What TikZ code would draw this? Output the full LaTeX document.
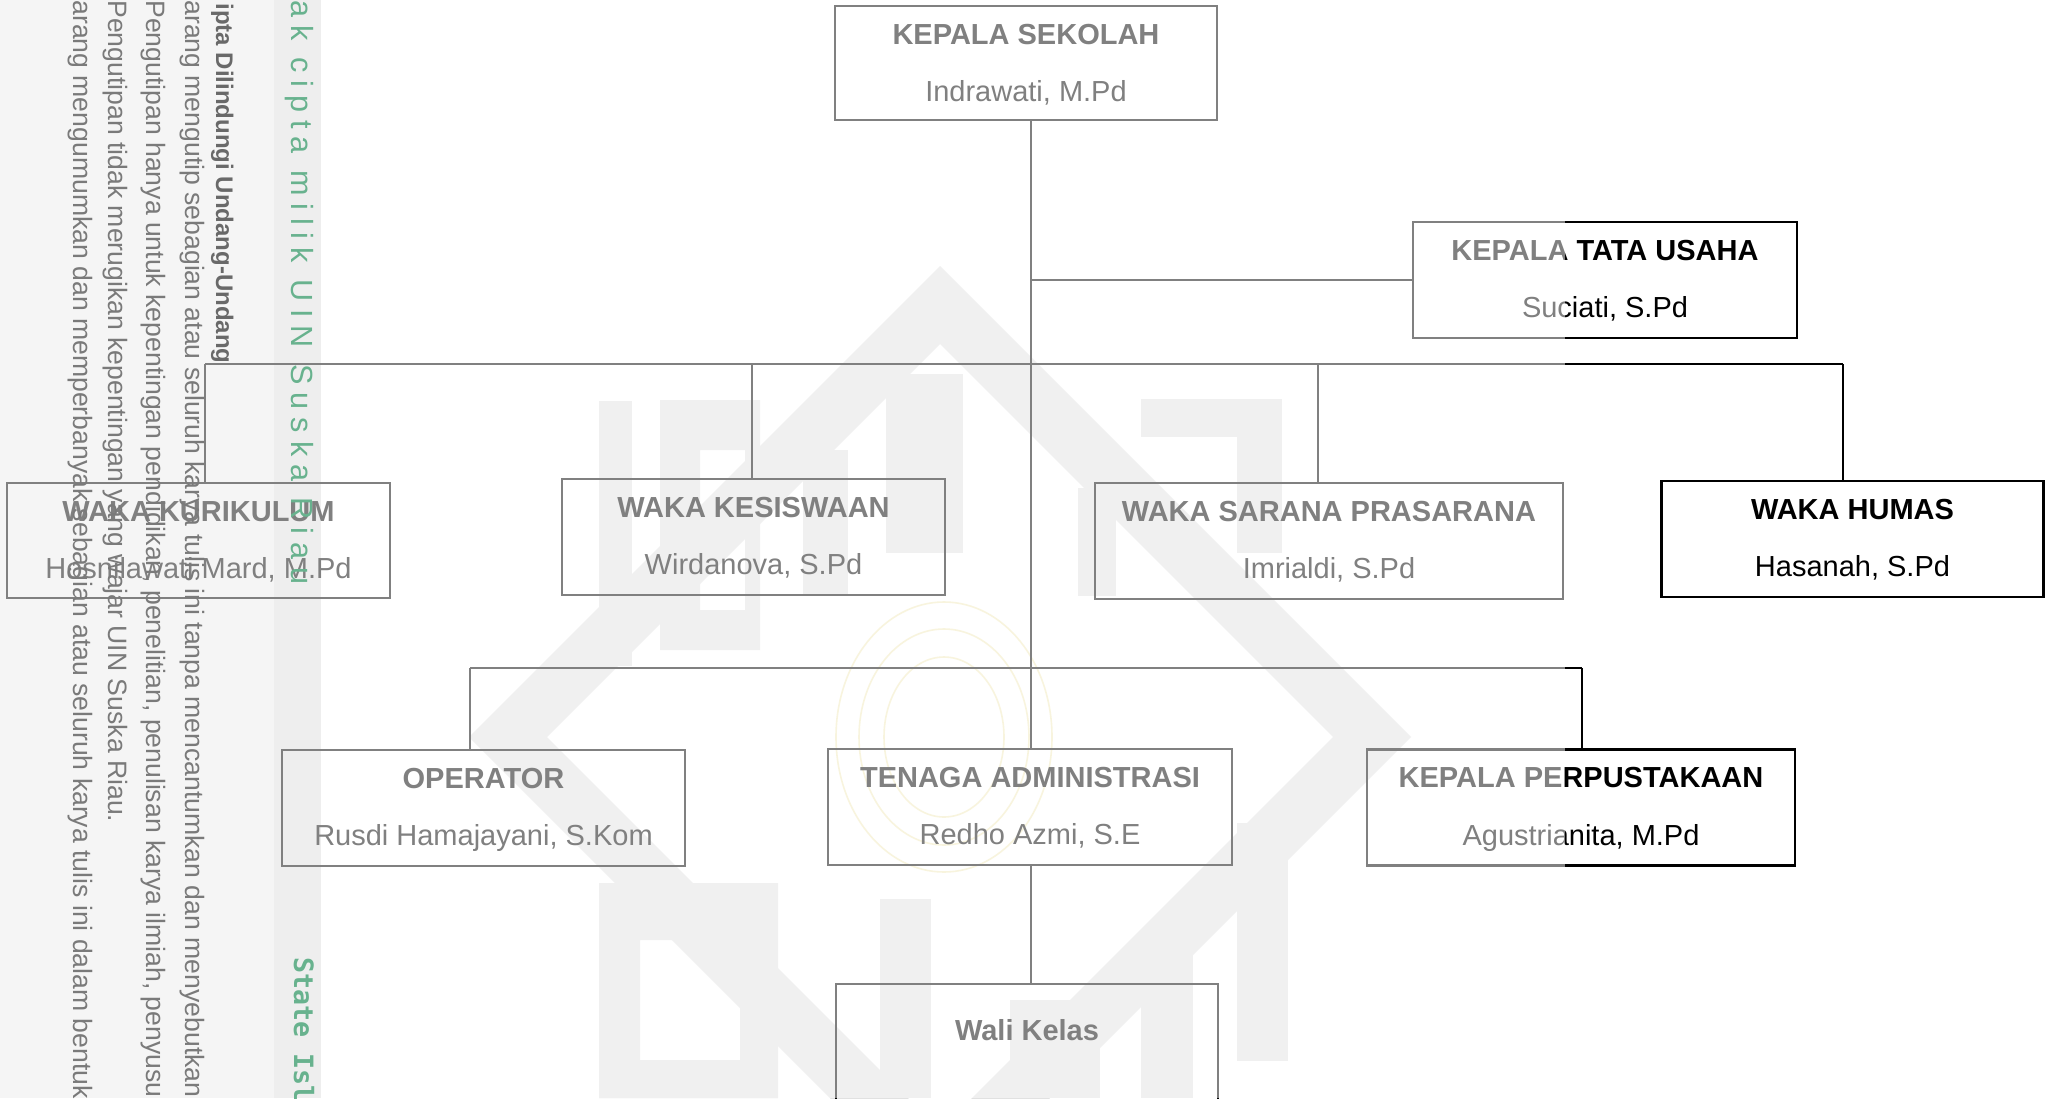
\documentclass[tikz,border=0pt]{standalone}
\usepackage{fontspec}
\setmainfont{Liberation Sans}
\newfontfamily\monob{DejaVu Sans Mono}
\newfontfamily\spaced[LetterSpace=26]{Liberation Sans}
\usetikzlibrary{calc}
\definecolor{logogray}{RGB}{225,225,225}
\definecolor{logoyel}{RGB}{242,234,190}
\definecolor{stripbg}{RGB}{235,235,235}
\definecolor{stripband}{RGB}{222,222,222}
\definecolor{striptext}{RGB}{122,122,122}
\definecolor{stripbold}{RGB}{105,105,105}
\definecolor{uingreen}{RGB}{104,178,142}
\begin{document}
\begin{tikzpicture}[x=0.5pt,y=-0.5pt,
  box/.style={draw=black, line width=1.3pt, inner sep=0pt},
  conn/.style={draw=black, line width=0.8pt},
  ttl/.style={font=\fontsize{14.5}{17}\selectfont\bfseries, inner sep=0pt, anchor=base},
  nm/.style={font=\fontsize{14.5}{17}\selectfont, inner sep=0pt, anchor=base},
  logo/.style={fill=logogray},
  striptxt/.style={rotate=-90, anchor=base west, inner sep=0pt, text=striptext, font=\fontsize{13.3}{15}\selectfont},
  stripttl/.style={striptxt, text=stripbold, font=\fontsize{12}{14}\selectfont\bfseries},
  greentxt/.style={rotate=-90, anchor=base west, inner sep=0pt, text=uingreen}]
\useasboundingbox (0,0) rectangle (2046,1098);
\clip (0,0) rectangle (2046,1098);
\fill[white] (0,0) rectangle (2046,1098);
% left strip background
\fill[stripbg] (0,0) rectangle (274,1098);
\fill[stripband] (274,0) rectangle (321,1098);
% faint watermark logo
\fill[logo, even odd rule] (940,266) -- (1411,737) -- (940,1208) -- (469,737) -- cycle
  (940,344) -- (1333,737) -- (940,1130) -- (547,737) -- cycle;
\fill[logo] (599,401) rectangle (632,666);
\fill[logo, even odd rule] (660,400) rectangle (760,650) (700,450) rectangle (745,610);
\fill[logo] (886,374) rectangle (963,553);
\fill[logo] (803,450) rectangle (848,596);
\fill[logo] (1141,399) rectangle (1282,437);
\fill[logo] (1237,399) rectangle (1282,553);
\fill[logo] (1078,488) rectangle (1116,596);
\fill[logo, even odd rule] (599,883) rectangle (778,1098) (640,940) rectangle (740,1060);
\fill[logo] (880,899) rectangle (931,1098);
\fill[logo] (1141,953) rectangle (1193,1098);
\fill[logo] (1237,823) rectangle (1288,1061);
\fill[logo] (1010,1000) rectangle (1100,1098);
\draw[logoyel, line width=0.8pt] (944,737) ellipse [x radius=108, y radius=135];
\draw[logoyel, line width=0.8pt] (944,737) ellipse [x radius=85, y radius=108];
\draw[logoyel, line width=0.8pt] (944,737) ellipse [x radius=60, y radius=80];
% boxes
\node[box, minimum width=191pt, minimum height=57pt] (ks) at (1026,63) {};
\node[box, minimum width=192pt, minimum height=58pt] (tu) at (1605,280) {};
\node[box, minimum width=191.5pt, minimum height=57.5pt] (kur) at (198.5,540.5) {};
\node[box, minimum width=191.5pt, minimum height=58pt] (kes) at (753.5,537) {};
\node[box, minimum width=234pt, minimum height=58pt] (sar) at (1329,541) {};
\node[box, minimum width=191pt, minimum height=58pt] (hum) at (1852.5,539) {};
\node[box, minimum width=201.5pt, minimum height=58pt] (op) at (483.5,808) {};
\node[box, minimum width=202pt, minimum height=58pt] (ta) at (1030,807) {};
\node[box, minimum width=214pt, minimum height=58pt] (per) at (1581,807.5) {};
\node[box, minimum width=191pt, minimum height=133pt] (wk) at (1027,1117) {};
% texts
\node[ttl] (ks-t) at ($(ks.north)+(0,39.5)$) {KEPALA SEKOLAH};
\node[nm] (ks-n) at ($(ks.north)+(0,97)$) {Indrawati, M.Pd};
\node[ttl] (tu-t) at ($(tu.north)+(0,39.5)$) {KEPALA TATA USAHA};
\node[nm] (tu-n) at ($(tu.north)+(0,97)$) {Suciati, S.Pd};
\node[ttl] (kur-t) at ($(kur.north)+(0,39.5)$) {WAKA KURIKULUM};
\node[nm] (kur-n) at ($(kur.north)+(0,97)$) {Hosnilawati Mard, M.Pd};
\node[ttl] (kes-t) at ($(kes.north)+(0,39.5)$) {WAKA KESISWAAN};
\node[nm] (kes-n) at ($(kes.north)+(0,97)$) {Wirdanova, S.Pd};
\node[ttl] (sar-t) at ($(sar.north)+(0,39.5)$) {WAKA SARANA PRASARANA};
\node[nm] (sar-n) at ($(sar.north)+(0,97)$) {Imrialdi, S.Pd};
\node[ttl] (hum-t) at ($(hum.north)+(0,39.5)$) {WAKA HUMAS};
\node[nm] (hum-n) at ($(hum.north)+(0,97)$) {Hasanah, S.Pd};
\node[ttl] (op-t) at ($(op.north)+(0,39.5)$) {OPERATOR};
\node[nm] (op-n) at ($(op.north)+(0,97)$) {Rusdi Hamajayani, S.Kom};
\node[ttl] (ta-t) at ($(ta.north)+(0,39.5)$) {TENAGA ADMINISTRASI};
\node[nm] (ta-n) at ($(ta.north)+(0,97)$) {Redho Azmi, S.E};
\node[ttl] (per-t) at ($(per.north)+(0,39.5)$) {KEPALA PERPUSTAKAAN};
\node[nm] (per-n) at ($(per.north)+(0,97)$) {Agustrianita, M.Pd};
\node[ttl] (wk-t) at ($(wk.north)+(0,57.5)$) {Wali Kelas};
% connectors
\coordinate (j1) at (1031,364);
\coordinate (bkur) at (205,364);
\coordinate (bkes) at (752,364);
\coordinate (bsar) at (1318,364);
\coordinate (bhum) at (1843,364);
\coordinate (j2) at (1031,668);
\coordinate (bop) at (470,668);
\coordinate (bper) at (1582,668);
\draw[conn] (j1 |- ks.south) -- (j1 |- ta.north);
\draw[conn] (j1 |- tu.west) -- (tu.west);
\draw[conn] (bkur) -- (bhum);
\draw[conn] (bkur) -- (bkur |- kur.north);
\draw[conn] (bkes) -- (bkes |- kes.north);
\draw[conn] (bsar) -- (bsar |- sar.north);
\draw[conn] (bhum) -- (bhum |- hum.north);
\draw[conn] (bop) -- (bper);
\draw[conn] (bop) -- (bop |- op.north);
\draw[conn] (bper) -- (bper |- per.north);
\draw[conn] (j2 |- ta.south) -- (j2 |- wk.north);
% grey veil of the watermark over the left part
\fill[white, opacity=0.5] (0,0) rectangle (1565,1098);
% watermark strip texts
\node[stripttl] (s0) at (216,3) {ipta Dilindungi Undang-Undang};
\node[striptxt] (s1) at (185,0) {arang mengutip sebagian atau seluruh karya tulis ini tanpa mencantumkan dan menyebutkan};
\node[striptxt] (s2) at (146,0) {Pengutipan hanya untuk kepentingan pendidikan, penelitian, penulisan karya ilmiah, penyusu};
\node[striptxt] (s3) at (108,0) {Pengutipan tidak merugikan kepentingan yang wajar UIN Suska Riau.};
\node[striptxt] (s4) at (73,0) {arang mengumumkan dan memperbanyak sebagian atau seluruh karya tulis ini dalam bentuk};
\node[greentxt, font=\spaced\fontsize{15.3}{17}\selectfont] (g1) at (291,0) {ak cipta milik UIN Suska Riau};
\node[greentxt, font=\monob\fontsize{13.3}{15}\selectfont\bfseries] (g2) at (294,957) {State Isla};
\end{tikzpicture}
\end{document}
